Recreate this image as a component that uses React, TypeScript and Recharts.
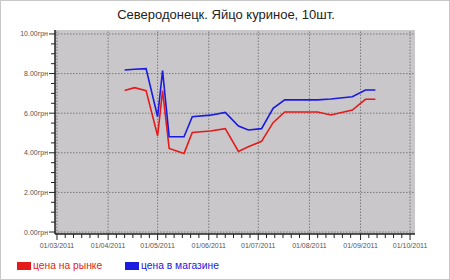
import React from 'react';
import { LineChart, Line, XAxis, YAxis, CartesianGrid, ReferenceLine } from 'recharts';

// days since 01/03/2011
const dayOffsets = [41, 47, 54, 61, 64, 68, 77, 82, 93, 102, 110, 116, 124, 131, 138, 158, 166, 179, 187, 193];
const marketPrice = [7.14, 7.29, 7.14, 4.86, 7.14, 4.22, 3.97, 5.03, 5.1, 5.22, 4.07, 4.31, 4.58, 5.52, 6.06, 6.06, 5.91, 6.16, 6.7, 6.7];
const storePrice = [8.18, 8.22, 8.25, 5.82, 8.15, 4.81, 4.81, 5.82, 5.9, 6.04, 5.35, 5.15, 5.22, 6.25, 6.67, 6.67, 6.72, 6.83, 7.17, 7.17];

const monthStarts = [0, 31, 61, 92, 122, 153, 184, 214];
const monthLabels = ['01/03/2011', '01/04/2011', '01/05/2011', '01/06/2011', '01/07/2011', '01/08/2011', '01/09/2011', '01/10/2011'];
const yMajor = [0, 2, 4, 6, 8, 10];
const yLabels = ['0.00грн', '2.00грн', '4.00грн', '6.00грн', '8.00грн', '10.00грн'];

const title = 'Северодонецк. Яйцо куриное, 10шт.';
const seriesNames = ['цена на рынке', 'цена в магазине'];
const seriesColors = ['#e41b1b', '#1a1ae0'];

const data = dayOffsets.map((d, i) => ({ day: d, market: marketPrice[i], store: storePrice[i] }));

const xTicks: number[] = [];
monthStarts.forEach((m, i) => {
  xTicks.push(m);
  if (i < monthStarts.length - 1) {
    for (let k = 1; k <= 5; k++) {
      const v = m + k * 5;
      if (v < monthStarts[i + 1]) xTicks.push(v);
    }
  }
});
const yTicks: number[] = [];
for (let v = 0; v <= 10; v += 0.5) yTicks.push(v);

const FONT = '"Liberation Sans", Arial, sans-serif';

const XTick = (props: any) => {
  const { x, y, payload } = props;
  const idx = monthStarts.indexOf(payload.value);
  const major = idx >= 0;
  return (
    <g>
      <line x1={x} x2={x} y1={y} y2={y + (major ? 6 : 4)} stroke="#222" strokeWidth={1} />
      {major && (
        <text x={x} y={y + 14} textAnchor="middle" fontSize={7} fill="#555" fontFamily={FONT}>
          {monthLabels[idx]}
        </text>
      )}
    </g>
  );
};

const YTick = (props: any) => {
  const { x, y, payload } = props;
  const idx = yMajor.indexOf(payload.value);
  const major = idx >= 0;
  return (
    <g>
      <line x1={x - (major ? 6 : 4)} x2={x} y1={y} y2={y} stroke="#222" strokeWidth={1} />
      {major && (
        <text x={x - 7} y={y + 2.5} textAnchor="end" fontSize={7} fill="#555" fontFamily={FONT}>
          {yLabels[idx]}
        </text>
      )}
    </g>
  );
};

export default function App() {
  return (
    <div
      style={{
        position: 'absolute',
        left: 0,
        top: 0,
        width: 450,
        height: 280,
        border: '1px solid #c8c8c8',
        boxSizing: 'border-box',
        background: '#fff',
        fontFamily: FONT,
        overflow: 'hidden',
      }}
    >
      <div
        style={{
          position: 'absolute',
          left: 0,
          top: 6,
          width: 450,
          textAlign: 'center',
          fontSize: 13,
          color: '#222',
        }}
      >
        {title}
      </div>
      <div style={{ position: 'absolute', left: -1, top: -1 }}>
        <LineChart width={450} height={280} data={data} margin={{ top: 30, right: 35, bottom: 26, left: 0 }}>
          <CartesianGrid fill="#c9c7ca" horizontal={false} vertical={false} stroke="none" />
          <XAxis
            dataKey="day"
            type="number"
            domain={[-1.2, 217]}
            allowDataOverflow
            ticks={xTicks}
            interval={0}
            tick={<XTick />}
            tickLine={false}
            tickSize={0}
            tickMargin={0}
            height={20}
            axisLine={{ stroke: '#222', strokeWidth: 1.5 }}
          />
          <YAxis
            type="number"
            domain={[-0.1, 10.2]}
            allowDataOverflow
            ticks={yTicks}
            interval={0}
            tick={<YTick />}
            tickLine={false}
            tickSize={0}
            tickMargin={0}
            width={55}
            axisLine={{ stroke: '#222', strokeWidth: 1.5 }}
          />
          {monthStarts.map((m) => (
            <ReferenceLine key={'x' + m} x={m} stroke="#7a7a7a" strokeDasharray="1.5 1.5" strokeWidth={1} />
          ))}
          {yMajor.map((v) => (
            <ReferenceLine key={'y' + v} y={v} stroke="#7a7a7a" strokeDasharray="1.5 1.5" strokeWidth={1} />
          ))}
          <Line
            type="linear"
            dataKey="market"
            name={seriesNames[0]}
            stroke={seriesColors[0]}
            strokeWidth={1.6}
            dot={false}
            isAnimationActive={false}
          />
          <Line
            type="linear"
            dataKey="store"
            name={seriesNames[1]}
            stroke={seriesColors[1]}
            strokeWidth={1.6}
            dot={false}
            isAnimationActive={false}
          />
        </LineChart>
      </div>
      <div style={{ position: 'absolute', left: 16, top: 259, display: 'flex', fontSize: 10.3 }}>
        {seriesNames.map((n, i) => (
          <div key={n} style={{ display: 'flex', alignItems: 'center', width: i === 0 ? 108 : 'auto' }}>
            <span style={{ display: 'inline-block', width: 14, height: 8, background: seriesColors[i], marginRight: 2 }} />
            <span style={{ color: seriesColors[i] }}>{n}</span>
          </div>
        ))}
      </div>
    </div>
  );
}
